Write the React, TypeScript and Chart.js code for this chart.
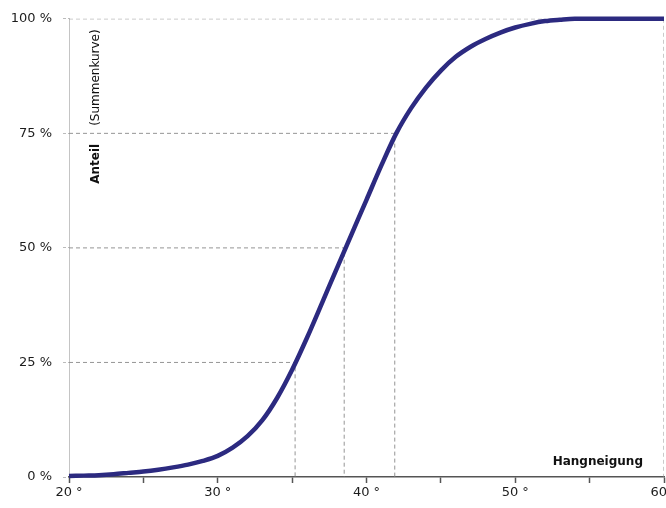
import { useEffect, useRef } from "react";
import Chart from "chart.js/auto";

// Hangneigung in Grad (x) und kumulierter Anteil in % (y)
const degrees = [
  20, 21, 22, 23, 24, 25, 26, 27, 28, 29, 30, 31, 32, 33, 34, 35, 36, 37, 38, 39, 40,
  41, 42, 43, 44, 45, 46, 47, 48, 49, 50, 51, 52, 53, 54, 55, 56, 57, 58, 59, 60,
];
const shares = [
  0.2, 0.3, 0.4, 0.6, 0.9, 1.2, 1.6, 2.1, 2.7, 3.5, 4.6, 6.4, 8.9, 12.4, 17.3, 23.4,
  30.4, 37.9, 45.5, 53.0, 60.5, 68.0, 75.0, 80.5, 85.0, 88.7, 91.7, 93.9, 95.6, 97.0,
  98.1, 98.9, 99.5, 99.8, 100, 100, 100, 100, 100, 100, 100,
];

// Quartile guides (share in %, slope in degrees)
const quartileShares = [25, 50, 75];
const quartileDegrees = [35.2, 38.5, 41.9];
const fullShareDegree = 52; // where the curve reaches 100 %

const xTicks = [20, 30, 40, 50, 60];
const yTicks = [0, 25, 50, 75, 100];

const curveColor = "#2c2a80";
const guideColor = "#959595";
const textColor = "#1c1c1c";
const font = "'DejaVu Sans', sans-serif";

const textPlugin = {
  id: "axisTexts",
  afterDraw(chart: Chart) {
    const { ctx, chartArea } = chart;
    ctx.save();
    ctx.fillStyle = "#111";
    ctx.font = `bold 12px ${font}`;
    ctx.textAlign = "right";
    ctx.textBaseline = "alphabetic";
    ctx.fillText("Hangneigung", chartArea.right - 21, chartArea.bottom - 12);

    ctx.translate(chartArea.left + 27, chartArea.top + 165);
    ctx.rotate(-Math.PI / 2);
    ctx.textAlign = "left";
    ctx.textBaseline = "middle";
    ctx.font = `bold 12px ${font}`;
    ctx.fillText("Anteil", 0, 0);
    const w = ctx.measureText("Anteil").width;
    ctx.font = `12px ${font}`;
    ctx.fillText("(Summenkurve)", w + 18, 0);
    ctx.restore();
  },
};

const guide = (data: { x: number; y: number }[]) => ({
  data,
  borderColor: guideColor,
  borderWidth: 1,
  borderDash: [4, 3],
  pointRadius: 0,
  tension: 0,
  order: 1,
});

const App = () => {
  const canvasRef = useRef<HTMLCanvasElement>(null);

  useEffect(() => {
    if (!canvasRef.current) return;
    const minX = degrees[0];
    const maxX = degrees[degrees.length - 1];
    const maxY = yTicks[yTicks.length - 1];

    const guides = quartileShares.map((p, i) =>
      guide([
        { x: minX, y: p },
        { x: quartileDegrees[i], y: p },
        { x: quartileDegrees[i], y: 0 },
      ])
    );
    guides.push(guide([{ x: minX, y: maxY }, { x: fullShareDegree, y: maxY }]));
    guides.push(guide([{ x: maxX, y: maxY }, { x: maxX, y: 0 }]));

    const chart = new Chart(canvasRef.current, {
      type: "line",
      data: {
        datasets: [
          {
            data: degrees.map((d, i) => ({ x: d, y: shares[i] })),
            borderColor: curveColor,
            borderWidth: 4.5,
            pointRadius: 0,
            cubicInterpolationMode: "monotone",
            clip: 8,
            order: 0,
          },
          ...guides,
        ],
      },
      options: {
        responsive: true,
        maintainAspectRatio: false,
        animation: false,
        layout: { padding: { top: 15, right: 28, left: 0, bottom: 0 } },
        plugins: { legend: { display: false }, tooltip: { enabled: false } },
        scales: {
          x: {
            type: "linear",
            min: minX,
            max: maxX,
            afterFit: (s: any) => {
              s.height = 31;
            },
            border: { color: "#555", width: 1.5 },
            grid: {
              drawOnChartArea: false,
              drawTicks: true,
              tickLength: 6,
              tickColor: "#555",
              tickWidth: 1.5,
            },
            ticks: {
              stepSize: 5,
              autoSkip: false,
              maxRotation: 0,
              padding: 2,
              color: textColor,
              font: { family: font, size: 13 },
              callback: (v: any) => (xTicks.includes(Number(v)) ? `${v} °` : ""),
            },
          },
          y: {
            type: "linear",
            min: 0,
            max: maxY,
            afterFit: (s: any) => {
              s.width = 69;
            },
            border: { color: "#c4c4c4", width: 1 },
            grid: {
              drawOnChartArea: false,
              drawTicks: true,
              tickLength: 6,
              tickColor: "#bbb",
              tickBorderDash: [3, 2],
            },
            ticks: {
              stepSize: 25,
              padding: 11,
              color: textColor,
              font: { family: font, size: 13 },
              callback: (v: any) => (yTicks.includes(Number(v)) ? `${v} %` : ""),
            },
          },
        },
      },
      plugins: [textPlugin],
    });

    return () => {
      chart.destroy();
    };
  }, []);

  return (
    <div
      style={{
        position: "fixed",
        left: 0,
        top: 0,
        width: 666,
        height: 508,
        overflow: "hidden",
        background: "#fff",
      }}
    >
      <div style={{ width: 692, height: 508, position: "relative" }}>
        <canvas ref={canvasRef} />
      </div>
    </div>
  );
};

export default App;
